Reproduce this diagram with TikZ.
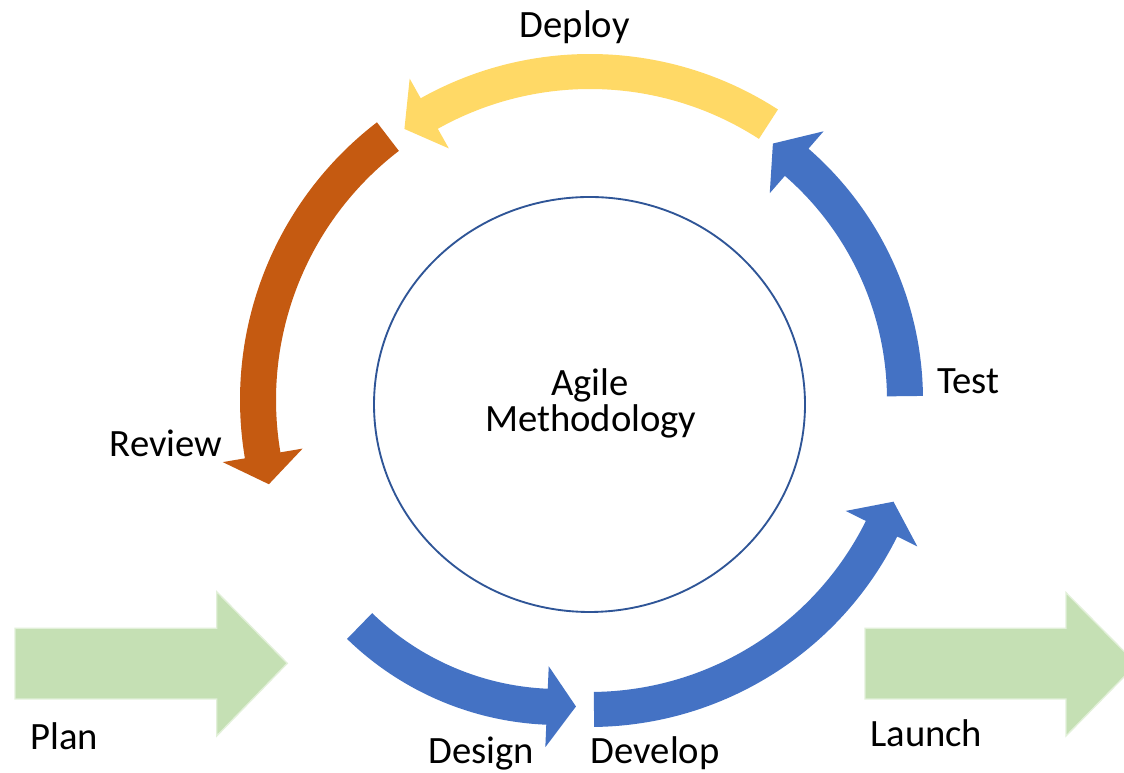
\documentclass[tikz,border=0pt]{standalone}
\usepackage{fontspec}
\setmainfont{Carlito}
\definecolor{ablue}{HTML}{4472C4}
\definecolor{aorange}{HTML}{C55A11}
\definecolor{ayellow}{HTML}{FFD966}
\definecolor{agreen}{HTML}{C5E0B4}
\definecolor{agreenedge}{HTML}{E2F0D9}
\definecolor{acircle}{HTML}{2F5597}
% curved block arrow: #1 cx, #2 cy, #3 r inner, #4 r outer, #5 tail angle, #6 head base angle, #7 tip angle, #8 head half width, #9 colour
\newcommand\circarrow[9]{%
  \pgfmathsetmacro\caRmid{(#3+#4)/2}%
  \pgfmathsetmacro\caRbi{\caRmid-#8}%
  \pgfmathsetmacro\caRbo{\caRmid+#8}%
  \pgfmathsetmacro\caRinpt{#3*0.75}%
  \pgfmathsetmacro\caRoutpt{#4*0.75}%
  \fill[#9,shift={(#1,#2)}] (#5:#4) arc[start angle=#5,end angle=#6,radius=\caRoutpt pt]
    -- (#6:\caRbo) -- (#7:\caRmid) -- (#6:\caRbi) -- (#6:#3)
    arc[start angle=#6,end angle=#5,radius=\caRinpt pt] -- cycle;
}
\begin{document}
\begin{tikzpicture}[x=0.75pt,y=0.75pt,
  lbl/.style={inner sep=0pt,anchor=base west,font=\fontsize{29pt}{35pt}\selectfont,text=black},
  lblc/.style={inner sep=0pt,anchor=base,font=\fontsize{29pt}{35pt}\selectfont,text=black},
  greenarrow/.style={fill=agreen,draw=agreenedge,line width=1pt,line join=miter}]
\clip (0,0) rectangle (1124,773);
\fill[white] (0,0) rectangle (1124,773);

% central circle
\draw[acircle,line width=1.4pt] (589.5,368.5) ellipse [x radius=161.625pt, y radius=155.625pt];
\node[lblc] (agile) at (590,377.3) {Agile};
\node[lblc] (method) at (590.8,341.3) {Methodology};

% cycle arrows
\circarrow{590}{373}{297}{333}{0.7}{49}{54.5}{41}{ablue}   % Test
\circarrow{590}{373}{311}{346}{57.1}{119.3}{124.4}{40}{ayellow} % Deploy
\circarrow{590}{373}{314}{350}{127.5}{189.6}{194.7}{40.5}{aorange} % Review
\circarrow{559}{352}{268}{304}{225.8}{267.6}{273.4}{40.5}{ablue} % Design
\circarrow{590}{389}{308}{343}{-89.3}{-26.4}{-21.2}{40}{ablue} % Develop

% green block arrows
\draw[greenarrow] (15,144.7) -- (216.7,144.7) -- (216.7,181.3) -- (287.3,109.7)
  -- (216.7,37) -- (216.7,74) -- (15,74) -- cycle;
\draw[greenarrow] (865,144.7) -- (1066,144.7) -- (1066,180.3) -- (1136.6,109)
  -- (1066,37) -- (1066,74) -- (865,74) -- cycle;

% labels
\node[lbl] (deploy) at (519.5,735.3) {Deploy};
\node[lbl] (test) at (937,379.7) {Test};
\node[lbl] (review) at (109.5,316.3) {Review};
\node[lbl] (design) at (428.5,9.7) {Design};
\node[lbl] (develop) at (590.5,9.7) {Develop};
\node[lbl] (plan) at (30,23) {Plan};
\node[lbl] (launch) at (870,26.3) {Launch};
\end{tikzpicture}
\end{document}
